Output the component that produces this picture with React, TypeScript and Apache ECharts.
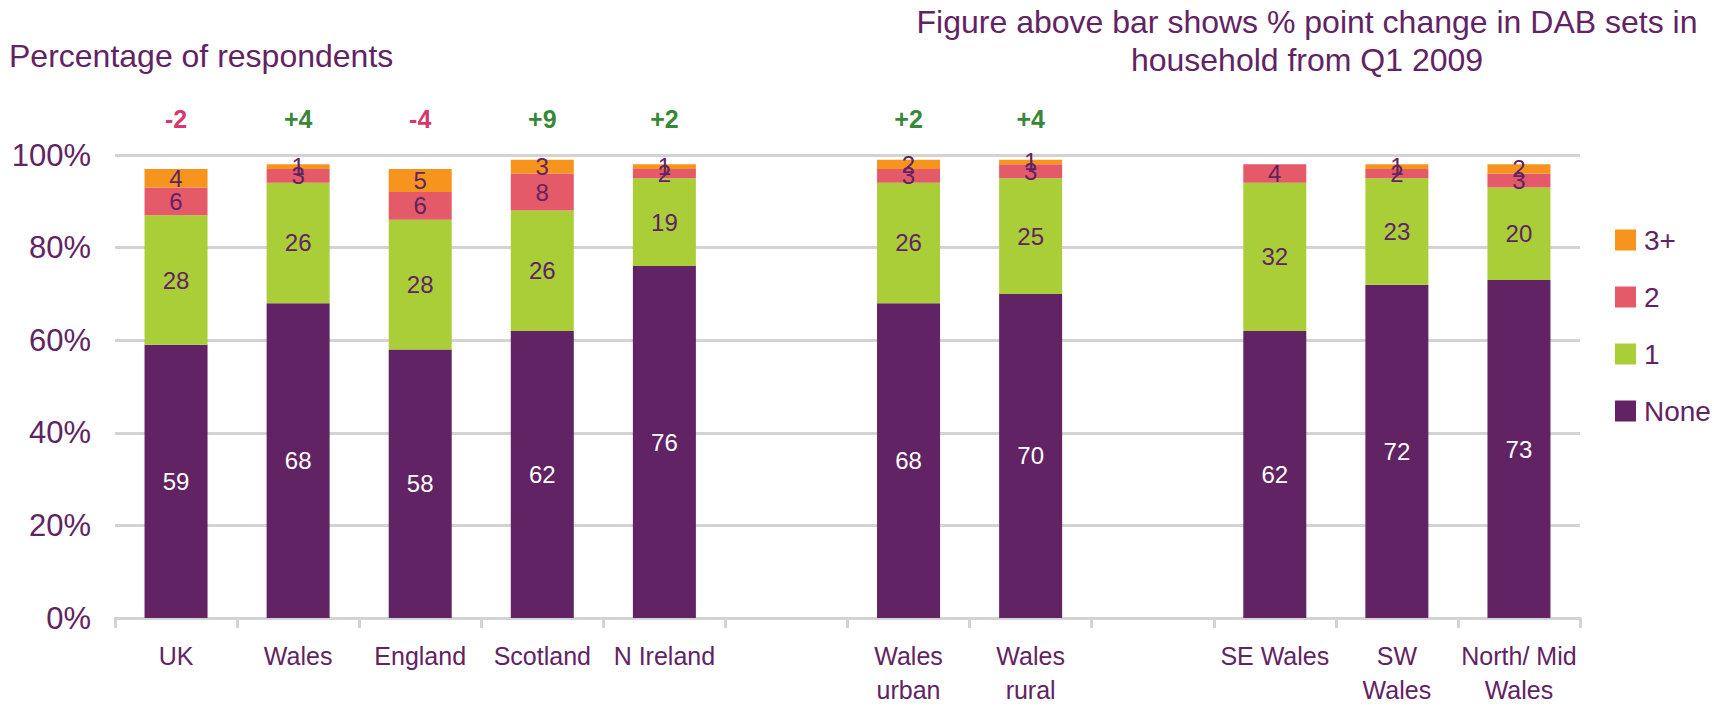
import React, { useEffect, useRef } from "react";
import * as echarts from "echarts";

const categories = [
  "UK", "Wales", "England", "Scotland", "N Ireland", "",
  "Wales\nurban", "Wales\nrural", "", "SE Wales", "SW\nWales", "North/ Mid\nWales",
];
const noneValues = [59, 68, 58, 62, 76, null, 68, 70, null, 62, 72, 73];
const oneValues = [28, 26, 28, 26, 19, null, 26, 25, null, 32, 23, 20];
const twoValues = [6, 3, 6, 8, 2, null, 3, 3, null, 4, 2, 3];
const threePlusValues = [4, 1, 5, 3, 1, null, 2, 1, null, null, 1, 2];
const changeValues = ["-2", "+4", "-4", "+9", "+2", null, "+2", "+4", null, null, null, null];
const yTicks = [0, 20, 40, 60, 80, 100];

const PURPLE = "#612363";
const FONT = "'Liberation Sans', Arial, Helvetica, sans-serif";

export default function App() {
  const ref = useRef<HTMLDivElement>(null);
  useEffect(() => {
    document.body.style.margin = "0";
    const chart = echarts.init(ref.current!, null, { renderer: "svg" });
    const segLabel = (color: string) => ({
      show: true,
      position: "inside",
      color,
      fontSize: 24,
      fontFamily: FONT,
      formatter: (p: any) => (p.value == null ? "" : String(p.value)),
    });
    const mk = (name: string, data: any[], color: string, labelColor: string) => ({
      name,
      type: "bar",
      stack: "total",
      barWidth: 63,
      data: data.map((v) => (v == null ? "-" : v)),
      itemStyle: { color },
      label: segLabel(labelColor),
    });
    const changeLevel = (625 - 118) / 4.7;
    chart.setOption({
      animation: false,
      textStyle: { fontFamily: FONT },
      grid: { left: 115, right: 134, top: 155, bottom: 82 },
      legend: {
        orient: "vertical",
        left: 1610,
        top: 221,
        itemWidth: 21,
        itemHeight: 21,
        itemGap: 29,
        icon: "rect",
        data: ["3+", "2", "1", "None"],
        textStyle: { fontSize: 28, color: PURPLE, fontFamily: FONT, padding: [0, 0, 0, 3], lineHeight: 28 },
      },
      xAxis: {
        type: "category",
        data: categories,
        axisLine: { lineStyle: { color: "#d3d3d3", width: 3 } },
        axisTick: { show: true, length: 10, lineStyle: { color: "#d3d3d3", width: 3 } },
        axisLabel: {
          interval: 0,
          fontSize: 25,
          lineHeight: 34,
          color: PURPLE,
          margin: 21,
          fontFamily: FONT,
        },
      },
      yAxis: {
        type: "value",
        min: yTicks[0],
        max: yTicks[yTicks.length - 1],
        interval: 20,
        axisLine: { show: false },
        axisTick: { show: false },
        splitLine: { lineStyle: { color: "#d3d3d3", width: 3 } },
        axisLabel: { formatter: "{value}%", fontSize: 31, color: PURPLE, margin: 24, fontFamily: FONT },
      },
      graphic: [
        {
          type: "text",
          x: 9,
          y: 56,
          style: {
            text: "Percentage of respondents", fontSize: 32, fill: PURPLE, fontFamily: FONT,
            verticalAlign: "middle",
          },
        },
        {
          type: "text",
          x: 1307,
          y: 22,
          style: {
            text: "Figure above bar shows % point change in DAB sets in",
            fontSize: 32, fill: PURPLE, fontFamily: FONT, align: "center", verticalAlign: "middle",
          },
        },
        {
          type: "text",
          x: 1307,
          y: 60,
          style: {
            text: "household from Q1 2009",
            fontSize: 32, fill: PURPLE, fontFamily: FONT, align: "center", verticalAlign: "middle",
          },
        },
      ],
      series: [
        mk("None", noneValues, "#612363", "#ffffff"),
        mk("1", oneValues, "#a9ce38", PURPLE),
        mk("2", twoValues, "#e55a68", PURPLE),
        mk("3+", threePlusValues, "#f7941d", PURPLE),
        {
          name: "change",
          type: "scatter",
          clip: false,
          symbolSize: 1,
          itemStyle: { color: "rgba(0,0,0,0)" },
          silent: true,
          data: changeValues.map((c) =>
            c == null
              ? "-"
              : {
                  value: changeLevel,
                  label: { color: c.startsWith("-") ? "#cc0044" : "#006600" },
                  name: c,
                }
          ),
          label: {
            show: true,
            position: "inside",
            fontSize: 25,
            fontWeight: "bold",
            fontFamily: FONT,
            formatter: (p: any) => p.name || "",
          },
        },
      ],
    });
    return () => chart.dispose();
  }, []);
  return <div ref={ref} style={{ width: 1714, height: 707 }} />;
}
